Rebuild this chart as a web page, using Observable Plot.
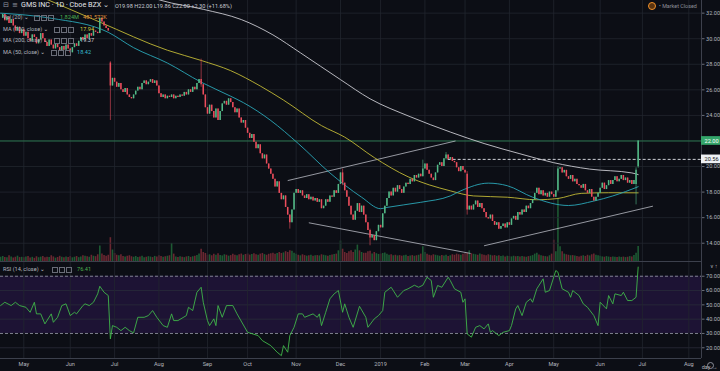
<!DOCTYPE html>
<html><head><meta charset="utf-8">
<script src="https://cdn.jsdelivr.net/npm/d3@7"></script>
<script src="https://cdn.jsdelivr.net/npm/@observablehq/plot@0.6"></script>
<style>
html,body{margin:0;padding:0;background:#0c0e15;}
#wrap{position:relative;width:720px;height:371px;overflow:hidden;background:#0c0e15;font-family:Roboto,"DejaVu Sans",sans-serif;}
#wrap svg{position:absolute;left:0;}
.t{position:absolute;white-space:nowrap;font-size:5.6px;line-height:8px;color:#b2b5be;}
.ic{position:absolute;width:4px;height:4px;border:0.8px solid #6a6d78;}
</style></head><body><div id="wrap">
</div>
<script>
// ---------- data ----------
const firstDay = -11;               // trading-day index of first candle (0 = 1 May 2018)
const monthDays = [0,22,43,64,87,106,129,150,169,190,209,230,251,273,293,315];
const monthLabels = ["May","Jun","Jul","Aug","Sep","Oct","Nov","Dec","2019","Feb","Mar","Apr","May","Jun","Jul","Aug"];
const priceTicks = [14,16,18,20,22,24,26,28,30,32];
const rsiTicks = [20,30,40,50,60,70];
const rsiBand = [30,70];
const rsiGrid = [20,40,50,60];

const closes = [
 31.6,31.9,31.4,31.7,31.2,31.5,31.0,30.6,30.9,30.4,30.7,
 30.2,30.5,30.0,29.8,30.3,30.1,29.6,29.9,30.4,30.0,
 29.7,29.4,29.9,29.5,29.2,29.6,29.3,29.0,29.4,29.1,
 29.5,29.2,28.9,29.3,29.6,29.4,29.8,30.1,29.9,30.3,
 30.0,30.4,30.2,30.6,30.5,30.4,31.6,31.3,31.0,30.8,
 30.6,26.3,26.9,26.6,26.2,26.5,26.0,25.8,26.1,25.6,
 25.4,25.3,25.6,25.9,26.2,26.0,26.5,26.7,26.4,26.6,
 26.8,26.5,26.7,26.3,25.7,25.4,25.6,25.3,25.5,25.4,
 25.6,25.3,25.5,25.4,25.6,25.5,25.8,25.6,26.0,25.8,
 26.2,26.0,26.5,26.8,26.4,25.6,24.6,24.1,24.8,24.3,
 23.8,24.5,23.6,24.3,24.9,25.1,24.8,25.3,25.0,24.6,
 24.2,24.5,23.8,23.4,23.6,23.0,22.6,22.2,22.5,21.9,
 21.4,21.7,21.0,20.6,20.9,20.2,19.8,19.4,19.0,18.4,
 18.8,17.9,17.4,17.7,16.8,16.2,15.6,16.6,17.9,18.2,
 17.9,18.1,17.7,17.5,17.8,17.4,17.6,17.3,17.5,17.2,
 17.4,16.7,16.9,17.4,17.2,17.7,17.6,18.1,17.9,18.6,
 19.5,18.7,18.1,17.6,16.9,16.2,15.8,16.5,17.1,16.4,
 16.9,16.2,15.6,15.0,14.4,14.6,14.2,14.9,15.4,15.2,
 16.3,16.9,17.5,18.0,17.7,18.3,18.0,18.5,18.2,17.9,
 18.4,18.7,18.6,19.0,18.8,19.3,19.1,19.4,19.2,19.8,
 20.2,19.7,19.4,19.1,18.9,19.5,20.1,20.3,20.0,20.6,
 20.9,20.56,20.7,20.4,20.3,19.9,19.6,20.0,19.7,19.5,
 16.6,16.9,16.6,17.0,17.3,16.8,17.1,16.7,16.4,16.0,
 15.9,16.2,15.7,15.4,15.6,15.1,15.3,15.5,15.2,15.6,
 15.4,15.9,16.1,15.8,16.4,16.2,16.6,16.4,16.9,16.7,
 17.1,17.4,17.9,18.3,17.8,18.1,17.7,17.9,17.6,18.0,
 17.8,17.6,18.1,19.8,19.9,19.5,19.7,19.2,19.0,19.3,
 18.8,19.0,18.6,18.5,18.3,18.6,18.1,17.9,18.2,17.6,
 17.3,17.6,17.9,18.3,18.7,18.2,18.5,18.9,18.6,18.9,
 19.2,18.8,19.0,19.3,18.9,19.1,18.7,18.9,18.6,18.9,
 19.7,22.0
];
const volumesK = [
 520,610,480,450,700,560,430,520,650,480,510,
 470,560,620,440,510,390,580,460,530,610,
 450,520,480,700,560,410,490,630,520,470,
 540,480,600,450,520,610,470,560,700,650,
 580,520,760,640,590,820,1900,900,720,650,
 760,2900,1400,980,760,690,820,610,560,640,
 700,580,520,610,480,560,650,470,520,590,
 540,480,620,560,700,610,520,580,640,700,
 2200,900,540,480,590,520,470,560,610,500,
 580,640,720,900,1500,1100,980,760,820,700,
 880,760,950,720,680,820,760,650,720,880,
 760,690,820,910,760,850,920,780,860,940,
 820,760,900,980,840,760,880,950,1020,890,
 960,1100,980,1050,1200,1100,1300,1250,1000,880,
 760,690,820,720,650,700,760,640,690,720,
 680,820,760,700,650,720,780,840,900,1300,
 2500,1500,1100,980,1200,1300,1100,1400,2000,1300,
 1100,1000,1000,1200,1250,900,1100,950,860,900,
 980,1050,880,760,820,700,760,680,720,650,
 700,760,620,680,720,640,700,760,900,1800,
 1100,880,760,700,820,760,700,640,720,680,
 760,620,700,820,760,900,820,760,880,1000,
 1000,1300,950,880,820,760,900,820,760,700,
 820,760,680,720,640,700,620,680,560,640,
 600,560,640,580,620,540,600,560,520,600,
 640,720,900,1000,800,700,640,600,560,700,
 900,2600,1200,7700,1800,1200,900,820,760,700,
 720,660,600,560,640,700,620,760,680,820,
 900,760,700,640,560,520,600,540,500,560,
 520,480,560,500,540,480,520,600,560,720,
 1000,1824
];
const gapDays  = [41, 210, 290, 291];
const gapOpens = [28.1, 19.4, 18.6, 19.98];
const wickDays  = [41, 84, 126, 151, 164, 189, 200, 210, 253, 290, 291];
const wickHighs = [28.2, 28.4, 16.2, 19.8, 15.1, 20.5, 21.1, 19.6, 20.0, 19.9, 22.0];
const wickLows  = [23.6, 26.2, 15.1, 18.5, 13.8, 19.2, 20.5, 16.2, 18.0, 17.0, 19.86];

const ma50Day = [-11,13,40,52,68,84,98,104,117,130,145,160,169,172,188,202,207,220,229,241,258,270,279,291];
const ma50Val = [32.0,31.6,30.5,29.3,28.1,26.6,25.5,25.0,23.6,21.8,19.5,17.6,16.7,16.8,17.2,17.7,18.1,18.7,18.5,17.6,16.95,17.3,17.7,18.42];
const ma100Day = [-11,12,36,68,84,98,112,123,141,152,166,182,202,213,229,243,253,264,277,291];
const ma100Val = [34.6,33.0,31.3,29.1,28.3,27.5,26.3,25.2,23.2,22.3,20.7,19.2,18.1,17.7,17.6,17.4,17.5,17.9,17.95,17.94];
const ma200Day = [50,65,85,103,118,131,150,164,183,202,218,235,251,268,288,291];
const ma200Val = [33.9,33.0,32.3,31.5,30.3,28.9,26.8,25.3,23.9,22.7,21.8,21.0,20.3,19.8,19.5,19.37];

const trendX1 = [125, 135, 218];
const trendY1 = [18.9, 15.6, 13.8];
const trendX2 = [204.5, 211.6, 298];
const trendY2 = [22.0, 13.2, 16.9];
const lastPrice = 22.00;
const markLevel = 20.56;
const markLevelDay = 201;

const rsiDay = [-11,-9,-6,-4,-2,1,3,5,6,8,10,13,14,16,18,20,22,24,25,28,29,31,33,35,36,38,40,41,42,44,46,48,50,52,54,57,59,61,63,66,68,70,71,73,77,78,80,82,84,85,87,88,90,91,92,94,96,99,101,106,111,113,117,120,122,123,125,126,128,130,132,133,137,139,140,141,143,145,147,149,151,152,154,156,159,162,163,166,168,170,171,174,175,177,180,182,185,187,189,191,193,194,196,198,201,202,204,207,208,209,210,212,214,216,218,220,221,222,225,227,230,231,233,234,236,238,240,241,243,246,247,249,252,253,255,258,259,260,263,265,267,270,272,273,276,277,279,280,283,284,286,288,290,291];
const rsiVal = [49.5,51.8,49.5,51.8,49.5,48.3,44.8,51.8,43.7,43.7,36.7,43.7,37.8,41.3,49.5,50.7,42.5,44.8,43.7,49.5,50.7,49.5,51.8,57.7,63.0,58.8,56.5,26.2,35.5,34.3,32.0,34.3,32.0,30.4,41.3,41.3,42.5,46.0,41.3,35.5,34.3,43.7,39.0,39.0,42.5,48.3,46.0,58.8,62.3,51.8,39.0,35.5,40.2,35.5,49.5,41.3,49.5,49.5,43.7,30.8,28.5,25.0,21.5,16.9,14.5,21.5,16.9,28.5,34.3,43.7,43.7,41.3,43.7,41.3,43.7,35.5,44.8,54.2,57.7,60.0,44.8,50.7,41.3,34.3,49.0,41.3,34.3,40.2,42.5,46.0,58.8,62.3,60.0,55.3,60.0,61.2,63.7,62.3,63.7,69.3,67.0,55.3,63.5,62.3,69.3,67.0,61.2,58.8,51.8,54.2,29.7,27.4,34.3,35.5,33.2,36.7,30.8,32.0,28.5,30.8,32.0,35.5,47.2,49.5,42.5,51.8,54.2,51.8,61.2,68.2,58.8,60.0,74.0,72.8,61.2,58.8,55.3,60.0,56.5,50.7,48.3,42.5,35.5,51.8,47.2,56.5,50.7,57.7,56.5,58.8,53.0,53.0,55.3,76.4];

// ---------- build ----------
const upC = "#53b987", downC = "#eb4d5c";
const volUp = "#1d5a33", volDown = "#6a2731";
const gridC = "#22262f";
const xDomain = [-11.04, 321];

const candles = closes.map((c, k) => {
  const day = firstDay + k;
  const g = gapDays.indexOf(day);
  const open = g >= 0 ? gapOpens[g] : (k > 0 ? closes[k - 1] : c);
  const w = wickDays.indexOf(day);
  const high = w >= 0 ? wickHighs[w] : Math.max(open, c);
  const low = w >= 0 ? wickLows[w] : Math.min(open, c);
  return {day, open, close: c, high, low, vol: volumesK[k] / 1000, up: c >= open};
});
const ma = (d, v) => d.map((x, k) => ({day: x, v: v[k]}));
const trends = trendX1.map((x, k) => ({x1: x, y1: trendY1[k], x2: trendX2[k], y2: trendY2[k]}));
const rsiPts = rsiDay.map((x, k) => ({day: x, v: rsiVal[k]}));

const baseStyle = {background: "transparent", color: "#b2b5be", fontSize: "5.6px", fontFamily: "Roboto"};
const wrap = document.getElementById("wrap");

const volPlot = Plot.plot({
  width: 720, height: 261, marginTop: 0, marginBottom: 0, marginLeft: 0, marginRight: 19,
  style: baseStyle,
  x: {domain: xDomain, axis: null}, y: {domain: [0, 31.8], axis: null},
  marks: [
    Plot.ruleY(priceTicks, {y: d => 0, stroke: "none"}),
    Plot.ruleX(candles, {x: "day", y1: 0, y2: "vol", stroke: d => d.up ? volUp : volDown, strokeWidth: 1.6})
  ]
});
volPlot.style.top = "0px";

const pricePlot = Plot.plot({
  width: 720, height: 261, marginTop: 0, marginBottom: 0, marginLeft: 0, marginRight: 19,
  style: baseStyle,
  x: {domain: xDomain, axis: null}, y: {domain: [12.57, 32.99], axis: null},
  marks: [
    Plot.ruleY(priceTicks, {stroke: gridC, strokeWidth: 0.8}),
    Plot.ruleX(monthDays, {stroke: gridC, strokeWidth: 0.8}),
    Plot.ruleY([lastPrice], {stroke: "#2f8a57", strokeWidth: 0.8}),
    Plot.ruleY([markLevel], {x1: markLevelDay, x2: xDomain[1], stroke: "#e6e8ee", strokeWidth: 0.9, strokeDasharray: "3,2"}),
    Plot.link(trends, {x1: "x1", y1: "y1", x2: "x2", y2: "y2", stroke: "#b9bbc4", strokeWidth: 0.8, clip: true}),
    Plot.line(ma(ma200Day, ma200Val), {x: "day", y: "v", stroke: "#c9cad0", strokeWidth: 0.9, curve: "monotone-x", clip: true}),
    Plot.line(ma(ma100Day, ma100Val), {x: "day", y: "v", stroke: "#c2b936", strokeWidth: 0.9, curve: "monotone-x", clip: true}),
    Plot.line(ma(ma50Day, ma50Val), {x: "day", y: "v", stroke: "#2aa7b8", strokeWidth: 0.9, curve: "monotone-x", clip: true}),
    Plot.ruleX(candles, {x: "day", y1: "low", y2: "high", stroke: d => d.up ? upC : downC, strokeWidth: 0.6}),
    Plot.ruleX(candles, {x: "day", y1: "open", y2: "close", stroke: d => d.up ? upC : downC, strokeWidth: 1.5}),
    Plot.ruleX([xDomain[1]], {stroke: "#4a4e5a", strokeWidth: 0.8}),
    Plot.axisY(priceTicks, {anchor: "right", tickSize: 2.5, tickPadding: 2, tickFormat: d => d.toFixed(2), fontSize: 5.6, stroke: "#6a6d78", fill: "#b2b5be"}),
    Plot.rect([lastPrice], {x1: xDomain[1], x2: 330.2, y1: d => d - 0.34, y2: d => d + 0.34, fill: "#34a56a"}),
    Plot.text([lastPrice], {x: xDomain[1], y: d => d, text: d => d.toFixed(2), dx: 3, textAnchor: "start", fill: "#ffffff", fontSize: 5.6}),
    Plot.rect([markLevel], {x1: xDomain[1], x2: 330.2, y1: d => d - 0.34, y2: d => d + 0.34, fill: "#eef0f4"}),
    Plot.text([markLevel], {x: xDomain[1], y: d => d, text: d => d.toFixed(2), dx: 3, textAnchor: "start", fill: "#131722", fontSize: 5.6})
  ]
});
pricePlot.style.top = "0px";

const rsiPlot = Plot.plot({
  width: 720, height: 110, marginTop: 0, marginBottom: 13, marginLeft: 0, marginRight: 19,
  style: baseStyle,
  x: {domain: xDomain, axis: null}, y: {domain: [12.5, 80.3], axis: null},
  marks: [
    Plot.rect([rsiBand], {x1: xDomain[0], x2: xDomain[1], y1: d => d[0], y2: d => d[1], fill: "#1d1334"}),
    Plot.ruleY(rsiGrid, {stroke: "#2a2c3a", strokeWidth: 0.8}),
    Plot.ruleX(monthDays, {stroke: gridC, strokeWidth: 0.8}),
    Plot.ruleY(rsiBand, {stroke: "#8d8f9c", strokeWidth: 0.9, strokeDasharray: "3,2"}),
    Plot.line(rsiPts, {x: "day", y: "v", stroke: "#3fb54a", strokeWidth: 0.9}),
    Plot.ruleY([80.3], {stroke: "#3c404c", strokeWidth: 1}),
    Plot.ruleY([12.5], {stroke: "#3c404c", strokeWidth: 1}),
    Plot.ruleX([xDomain[1]], {stroke: "#4a4e5a", strokeWidth: 0.8}),
    Plot.axisY(rsiTicks, {anchor: "right", tickSize: 2.5, tickPadding: 2, tickFormat: d => d.toFixed(2), fontSize: 5.6, stroke: "#6a6d78", fill: "#b2b5be"}),
    Plot.axisX(monthDays, {anchor: "bottom", tickSize: 0, tickPadding: 4, tickFormat: d => monthLabels[monthDays.indexOf(d)], fontSize: 5.6, fill: "#b2b5be"})
  ]
});
rsiPlot.style.top = "261px";

wrap.appendChild(volPlot);
wrap.appendChild(pricePlot);
wrap.appendChild(rsiPlot);

// ---------- legend overlays ----------
function txt(left, top, s, color, size, weight) {
  const d = document.createElement("div");
  d.className = "t"; d.textContent = s;
  d.style.left = left + "px"; d.style.top = top + "px";
  if (color) d.style.color = color;
  if (size) d.style.fontSize = size + "px";
  if (weight) d.style.fontWeight = weight;
  wrap.appendChild(d);
}
function icons(left, top) {
  for (let k = 0; k < 3; k++) {
    const d = document.createElement("div");
    d.className = "ic"; d.style.left = (left + k * 7) + "px"; d.style.top = top + "px";
    wrap.appendChild(d);
  }
}
txt(3, 1, "⊟", "#9598a1", 7);
txt(12, 1, "≡", "#9598a1", 7);
txt(21, 1, "GMS INC · 1D · Cboe BZX ⌄", "#e3e5ea", 7.2);
txt(115, 2, "O19.98  H22.00  L19.86  C22.00  +2.30 (+11.68%)", "#c9ccd4", 5.6);
txt(3, 13, "Vol (20) ⌄", "#b2b5be"); icons(34, 15);
txt(60, 13, "1.824M", "#4caf50"); txt(83, 13, "481.572K", "#e39a3c");
txt(3, 25, "MA (100, close) ⌄", "#b2b5be"); icons(54, 27); txt(80, 25, "17.94", "#d9d23e");
txt(3, 36, "MA (200, close) ⌄", "#b2b5be"); icons(54, 38); txt(80, 36, "19.37", "#d1d4dc");
txt(3, 48, "MA (50, close) ⌄", "#b2b5be"); icons(51, 50); txt(77, 48, "18.42", "#36b9cc");
txt(3, 265, "RSI (14, close) ⌄", "#b2b5be"); icons(52, 267); txt(77, 265, "76.41", "#4caf50");
const dot = document.createElement("div");
dot.style.cssText = "position:absolute;left:648px;top:2px;width:6px;height:6px;border-radius:50%;border:1px solid #f0902a;background:#5a3410;";
wrap.appendChild(dot);
txt(659, 2, "• Market Closed", "#8c8f99", 5.4);
const gear = document.createElement("div");
gear.style.cssText = "position:absolute;left:707px;top:362px;width:5px;height:5px;border-radius:50%;border:0.8px solid #8c8f99;";
wrap.appendChild(gear);
</script></body></html>
